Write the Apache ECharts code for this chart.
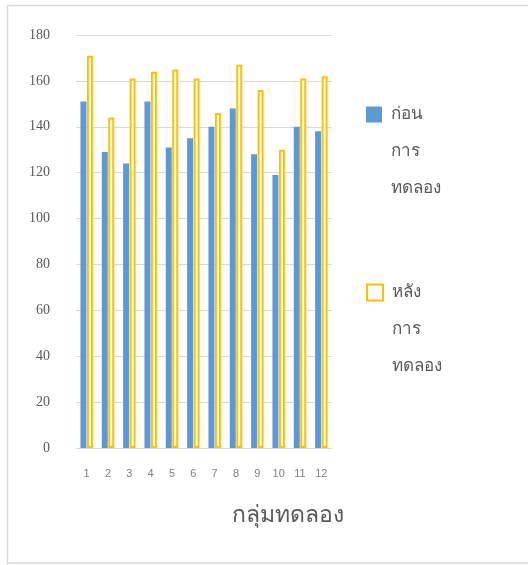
<!DOCTYPE html>
<html>
<head>
<meta charset="utf-8">
<script src="https://cdn.jsdelivr.net/npm/echarts@6/dist/echarts.min.js"></script>
<style>
    html, body { margin: 0; padding: 0; background: #fff; }
    #chart { width: 528px; height: 565px; }
</style>
</head>
<body>
<div id="chart"></div>
<script>
// ข้อมูล
const groups = ['1', '2', '3', '4', '5', '6', '7', '8', '9', '10', '11', '12'];
const beforeValues = [151, 129, 124, 151, 131, 135, 140, 148, 128, 119, 140, 138];
const afterValues = [171, 144, 161, 164, 165, 161, 146, 167, 156, 130, 161, 162];
const seriesNames = ['ก่อนการทดลอง', 'หลังการทดลอง'];
const legendLabels = ['ก่อน\nการ\nทดลอง', 'หลัง\nการ\nทดลอง'];
const axisTitle = 'กลุ่มทดลอง';

const textGray = '#595959';
const gridGray = '#d9d9d9';

// ให้บรรทัดแรกอยู่ตรงกับไอคอน: เติมบรรทัดว่างสองบรรทัดด้านบน
function legendFor(i, top) {
    return {
        data: [{ name: seriesNames[i], icon: 'rect' }],
        left: 366,
        top: top,
        itemWidth: 16,
        itemHeight: 16,
        itemGap: 0,
        padding: 0,
        formatter: () => '\n\n' + legendLabels[i],
        textStyle: {
            color: textGray,
            fontSize: 17,
            lineHeight: 37,
            padding: [0, 0, 0, 4]
        }
    };
}

function initChart() {
    const chart = echarts.init(document.getElementById('chart'));
    const option = {
        animation: false,
        backgroundColor: '#fff',
        grid: {
            left: 76,
            right: 196,
            top: 35,
            bottom: 117
        },
        title: {
            text: axisTitle,
            left: 227,
            top: 499,
            textStyle: {
                color: textGray,
                fontSize: 23,
                fontWeight: 'normal'
            }
        },
        legend: [legendFor(0, 22), legendFor(1, 200)],
        graphic: [{
            type: 'rect',
            shape: { x: 7.5, y: 5.5, width: 530, height: 557.5 },
            style: { fill: 'none', stroke: gridGray, lineWidth: 1.5 },
            silent: true
        }],
        xAxis: {
            type: 'category',
            data: groups,
            axisLine: { lineStyle: { color: gridGray } },
            axisTick: { show: false },
            axisLabel: {
                color: '#7f7f7f',
                fontSize: 11,
                margin: 20
            }
        },
        yAxis: {
            type: 'value',
            min: 0,
            max: 180,
            interval: 20,
            axisLine: { show: false },
            axisTick: { show: false },
            axisLabel: {
                color: textGray,
                fontFamily: 'Liberation Serif',
                fontSize: 14,
                margin: 26
            },
            splitLine: { lineStyle: { color: gridGray } }
        },
        series: [{
            name: seriesNames[0],
            type: 'bar',
            data: beforeValues,
            barWidth: 6,
            barGap: '8%',
            itemStyle: { color: '#5b9bd5' }
        }, {
            name: seriesNames[1],
            type: 'bar',
            data: afterValues,
            barWidth: 6,
            itemStyle: {
                color: '#ffffff',
                borderColor: '#ffc000',
                borderWidth: 2
            }
        }]
    };
    chart.setOption(option);
}

document.addEventListener('DOMContentLoaded', initChart);
</script>
</body>
</html>
